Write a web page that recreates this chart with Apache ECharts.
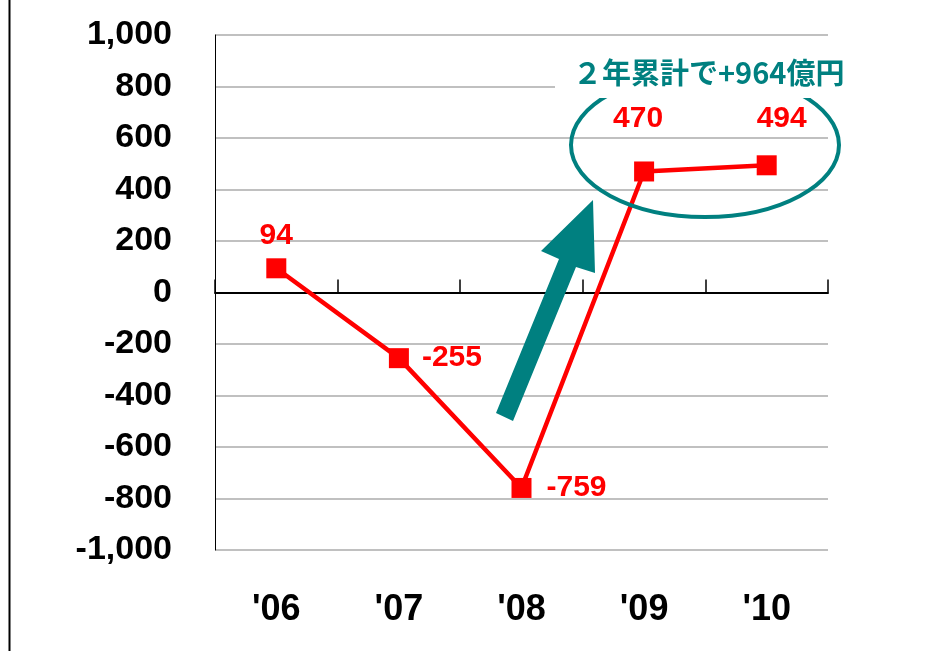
<!DOCTYPE html>
<html>
<head>
<meta charset="utf-8">
<script src="https://cdn.jsdelivr.net/npm/echarts@6/dist/echarts.min.js"></script>
<style>
  html, body { margin: 0; padding: 0; background: #fff; }
  #chart { width: 948px; height: 651px; }
</style>
</head>
<body>
<div id="chart"></div>
<script>
// yearly values (億円)
var years = ["'06", "'07", "'08", "'09", "'10"];
var values = [94, -255, -759, 470, 494];
var yTicks = [-1000, 1000, 200]; // min, max, interval
var note = '２年累計で+964億円';

var narrow = '"Liberation Sans Narrow", "Arial Narrow", "Liberation Sans", sans-serif';
var red = '#ff0000';
var teal = '#008080';

// label placement per point
var labelPos = [
    { position: 'top', distance: 8, offset: [0, 0] },
    { position: 'right', distance: 13, offset: [0, 0] },
    { position: 'right', distance: 15, offset: [0, 0] },
    { position: 'top', distance: 28, offset: [-6, 0] },
    { position: 'top', distance: 22, offset: [15, 0] }
];

var chart = echarts.init(document.getElementById('chart'));

var option = {
    backgroundColor: '#fff',
    animation: false,
    grid: { left: 215, right: 120, top: 35, bottom: 101 },
    xAxis: [
        {
            type: 'category',
            data: years,
            axisLine: { onZero: true, lineStyle: { color: '#000', width: 2 } },
            axisTick: { show: true, inside: true, length: 13, lineStyle: { color: '#000', width: 1.5 } },
            axisLabel: { show: false },
            splitLine: { show: false }
        },
        {
            type: 'category',
            data: years,
            position: 'bottom',
            axisLine: { show: false, onZero: false },
            axisTick: { show: false },
            axisLabel: {
                margin: 42,
                color: '#000',
                fontFamily: narrow,
                fontWeight: 'bold',
                fontSize: 36
            }
        }
    ],
    yAxis: {
        type: 'value',
        min: yTicks[0],
        max: yTicks[1],
        interval: yTicks[2],
        axisLine: { show: true, lineStyle: { color: '#000', width: 1 } },
        axisTick: { show: false },
        axisLabel: {
            margin: 43,
            color: '#000',
            fontFamily: narrow,
            fontWeight: 'bold',
            fontSize: 34,
            formatter: function (v) {
                var s = Math.abs(v).toString().replace(/\B(?=(\d{3})+(?!\d))/g, ',');
                return (v < 0 ? '-' : '') + s;
            }
        },
        splitLine: { show: true, lineStyle: { color: '#c0c0c0', width: 2 } }
    },
    series: [
        {
            type: 'line',
            xAxisIndex: 0,
            data: values.map(function (v, i) {
                return {
                    value: v,
                    label: {
                        show: true,
                        position: labelPos[i].position,
                        distance: labelPos[i].distance,
                        offset: labelPos[i].offset
                    }
                };
            }),
            symbol: 'rect',
            symbolSize: 20,
            lineStyle: { color: red, width: 4.5 },
            itemStyle: { color: red },
            label: {
                color: red,
                fontFamily: narrow,
                fontWeight: 'bold',
                fontSize: 30
            }
        }
    ],
    graphic: [
        // frame edge on the left
        {
            type: 'line', z: 100,
            shape: { x1: 9.5, y1: 0, x2: 9.5, y2: 651 },
            style: { stroke: '#000', lineWidth: 2 }
        },
        // ellipse round the last two years
        {
            type: 'ellipse', z: 100,
            shape: { cx: 705, cy: 145, rx: 134, ry: 72 },
            style: { fill: null, stroke: teal, lineWidth: 4 }
        },
        // white box behind the note
        {
            type: 'rect', z: 101,
            shape: { x: 555, y: 48, width: 300, height: 50 },
            style: { fill: '#fff' }
        },
        {
            type: 'text', z: 102,
            style: {
                text: note,
                x: 573, y: 73,
                verticalAlign: 'middle',
                font: 'bold 29px "Noto Sans CJK JP", sans-serif',
                fill: teal
            }
        },
        // block arrow
        {
            type: 'polygon', z: 100,
            shape: {
                points: [[496, 413], [559, 259], [541, 251], [593, 200], [595, 273], [576, 267], [513, 421]]
            },
            style: { fill: teal }
        }
    ]
};

chart.setOption(option);
</script>
</body>
</html>
